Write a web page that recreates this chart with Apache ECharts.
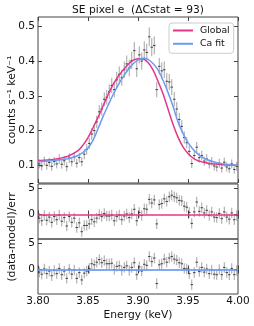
<!DOCTYPE html>
<html><head><meta charset="utf-8">
<script src="https://cdn.jsdelivr.net/npm/echarts@6/dist/echarts.min.js"></script>
<style>html,body{margin:0;padding:0;background:#fff}#c{width:254px;height:326px}</style>
</head><body><div id="c"></div>
<script>
const energy = [3.80125,3.80375,3.80625,3.80875,3.81125,3.81375,3.81625,3.81875,3.82125,3.82375,
3.82625,3.82875,3.83125,3.83375,3.83625,3.83875,3.84125,3.84375,3.84625,3.84875,
3.85125,3.85375,3.85625,3.85875,3.86125,3.86375,3.86625,3.86875,3.87125,3.87375,
3.87625,3.87875,3.88125,3.88375,3.88625,3.88875,3.89125,3.89375,3.89625,3.89875,
3.90125,3.90375,3.90625,3.90875,3.91125,3.91375,3.91625,3.91875,3.92125,3.92375,
3.92625,3.92875,3.93125,3.93375,3.93625,3.93875,3.94125,3.94375,3.94625,3.94875,
3.95125,3.95375,3.95625,3.95875,3.96125,3.96375,3.96625,3.96875,3.97125,3.97375,
3.97625,3.97875,3.98125,3.98375,3.98625,3.98875,3.99125,3.99375,3.99625,3.99875];
const counts = [0.104,0.098,0.112,0.100,0.108,0.097,0.111,0.104,0.118,0.103,
0.113,0.096,0.121,0.110,0.124,0.106,0.122,0.110,0.132,0.146,
0.163,0.190,0.200,0.225,0.254,0.262,0.290,0.296,0.312,0.330,
0.318,0.346,0.362,0.352,0.375,0.392,0.380,0.402,0.430,0.378,
0.418,0.400,0.432,0.425,0.470,0.440,0.445,0.318,0.385,0.372,
0.375,0.342,0.340,0.325,0.290,0.262,0.232,0.212,0.180,0.165,
0.140,0.105,0.128,0.152,0.122,0.128,0.112,0.118,0.104,0.111,
0.098,0.095,0.106,0.092,0.109,0.095,0.090,0.104,0.088,0.097];
const countErr = [0.013,0.013,0.013,0.013,0.013,0.013,0.013,0.013,0.014,0.013,
0.014,0.013,0.014,0.013,0.014,0.013,0.014,0.013,0.015,0.015,
0.016,0.017,0.017,0.018,0.019,0.019,0.020,0.021,0.021,0.022,
0.022,0.023,0.023,0.023,0.024,0.024,0.024,0.025,0.025,0.024,
0.025,0.025,0.025,0.025,0.027,0.026,0.026,0.022,0.024,0.024,
0.024,0.023,0.023,0.023,0.021,0.020,0.019,0.018,0.017,0.016,
0.015,0.013,0.014,0.015,0.014,0.014,0.013,0.014,0.013,0.013,
0.013,0.013,0.013,0.013,0.013,0.013,0.012,0.013,0.012,0.013];
const resGlobal = [-0.7,-1.2,-0.2,-1.1,-0.5,-1.5,-0.4,-1.0,-0.1,-1.3,
-0.6,-2.2,-0.4,-1.5,-0.7,-2.5,-1.6,-3.3,-2.1,-2.1,
-1.8,-1.0,-1.4,-0.7,0.0,-0.4,0.2,-0.3,-0.3,-0.1,
-1.2,-0.4,-0.1,-1.0,-0.3,0.1,-0.6,0.1,1.0,-1.2,
0.4,-0.2,1.1,1.0,2.9,2.2,2.8,-1.8,1.9,2.1,
3.0,2.5,3.4,3.7,3.4,3.2,2.7,2.6,1.6,1.4,
0.4,-1.7,0.5,2.4,0.6,1.3,0.3,0.8,-0.2,0.5,
-0.5,-0.6,0.2,-0.8,0.5,-0.5,-0.9,0.3,-1.0,-0.2];
const resCa = [-0.5,-0.9,0.1,-0.8,-0.3,-1.2,-0.2,-0.8,0.2,-1.0,
-0.3,-1.7,0.1,-0.9,-0.1,-1.7,-0.6,-2.0,-0.7,-0.3,
0.2,1.1,0.9,1.4,1.9,1.3,1.7,1.1,1.1,1.2,
0.0,0.6,0.7,-0.2,0.4,0.7,-0.2,0.4,1.3,-1.0,
0.5,-0.3,1.0,0.8,2.5,1.5,2.2,-2.7,0.9,1.1,
2.0,1.4,2.2,2.5,2.0,1.8,1.3,1.1,0.2,0.1,
-0.8,-2.9,-0.6,1.4,-0.4,0.4,-0.5,0.1,-0.8,-0.1,
-0.9,-1.0,0.0,-1.0,0.4,-0.6,-1.0,0.2,-1.0,-0.2];
const modelEnergy = [3.800,3.810,3.820,3.830,3.840,3.845,3.850,3.855,3.860,3.865,3.870,3.875,3.880,3.885,3.890,3.895,3.900,3.905,3.910,3.915,3.920,3.925,3.930,3.935,3.940,3.945,3.950,3.955,3.960,3.965,3.970,3.980,3.990,4.000];
const modelGlobal = [0.113,0.115,0.119,0.126,0.142,0.158,0.180,0.208,0.238,0.270,0.303,0.332,0.355,0.374,0.390,0.402,0.407,0.406,0.396,0.375,0.342,0.306,0.262,0.218,0.181,0.153,0.134,0.121,0.113,0.109,0.106,0.103,0.101,0.100];
const modelCa = [0.110,0.112,0.115,0.119,0.128,0.137,0.150,0.172,0.205,0.240,0.272,0.303,0.330,0.354,0.375,0.392,0.403,0.408,0.405,0.393,0.375,0.345,0.310,0.270,0.225,0.192,0.165,0.146,0.132,0.122,0.115,0.107,0.102,0.100];
const xTicks = [3.80,3.85,3.90,3.95,4.00];
const countTicks = [0.1,0.2,0.3,0.4,0.5];
const resTicks = [0,5];

const FONT = 'DejaVu Sans';
const GLOBAL_C = '#e5358b';
const CA_C = '#6c9bf2';
const ERR_C = 'rgba(90,90,90,0.55)';
const ERR_H = 'rgba(40,40,40,0.85)';
const FRAME = '#444';
const HALF = 0.00125;

function errItem(params, api) {
  const x = api.value(0), y = api.value(1), e = api.value(2);
  const t = api.coord([x, y + e]), b = api.coord([x, y - e]);
  const l = api.coord([x - HALF, y]), r = api.coord([x + HALF, y]);
  return {type: 'group', children: [
    {type: 'line', shape: {x1: t[0], y1: t[1], x2: b[0], y2: b[1]}, style: {stroke: ERR_C, lineWidth: 1}},
    {type: 'line', shape: {x1: l[0], y1: l[1], x2: r[0], y2: r[1]}, style: {stroke: ERR_H, lineWidth: 1}}
  ]};
}

const grids = [
  {left: 38, right: 16, top: 17, height: 166},
  {left: 38, right: 16, top: 184, height: 55},
  {left: 38, right: 16, top: 239, height: 55}
].map(g => Object.assign(g, {show: true, borderColor: FRAME, borderWidth: 1, backgroundColor: 'transparent'}));

const xAxes = [], yAxes = [];
for (let g = 0; g < 3; g++) {
  ['bottom', 'top'].forEach(pos => {
    xAxes.push({
      gridIndex: g, type: 'value', min: 3.8, max: 4.0, position: pos,
      axisLine: {show: false}, splitLine: {show: false},
      axisTick: {show: true, inside: true, length: 4, customValues: xTicks, lineStyle: {color: FRAME}},
      axisLabel: {show: g === 2 && pos === 'bottom', customValues: xTicks, formatter: v => v.toFixed(2),
        fontFamily: FONT, fontSize: 10.5, color: '#111', margin: 2}
    });
  });
  const main = g === 0;
  ['left', 'right'].forEach(pos => {
    yAxes.push({
      gridIndex: g, type: 'value', position: pos,
      min: main ? 0.049 : -4.7, max: main ? 0.527 : 5.85,
      axisLine: {show: false}, splitLine: {show: false},
      axisTick: {show: true, inside: true, length: 4, customValues: main ? countTicks : resTicks, lineStyle: {color: FRAME}},
      axisLabel: {show: pos === 'left', customValues: main ? countTicks : resTicks,
        formatter: v => main ? v.toFixed(1) : String(Math.round(v)),
        fontFamily: FONT, fontSize: 10.5, color: '#111', margin: 3}
    });
  });
}

const chart = echarts.init(document.getElementById('c'), null, {renderer: 'canvas'});
chart.setOption({
  animation: false,
  backgroundColor: '#fff',
  grid: grids,
  xAxis: xAxes,
  yAxis: yAxes,
  legend: {
    data: ['Global', 'Ca fit'], orient: 'vertical', left: 169, top: 23,
    icon: 'rect', itemWidth: 20, itemHeight: 2, itemGap: 2.3,
    padding: [2, 4, 4, 4], borderColor: '#ccc', borderWidth: 1, borderRadius: 3, backgroundColor: '#fff',
    textStyle: {fontFamily: FONT, fontSize: 9.3, color: '#111', lineHeight: 11, padding: [0, 0, 0, 2]}
  },
  graphic: [
    {type: 'text', x: 138, y: 10, style: {text: 'SE pixel e  (ΔCstat = 93)', fontFamily: FONT, fontSize: 10.7, fill: '#111', textAlign: 'center', textVerticalAlign: 'middle'}},
    {type: 'text', x: 12, y: 100, rotation: Math.PI / 2, style: {text: 'counts s⁻¹ keV⁻¹', fontFamily: FONT, fontSize: 10.8, fill: '#111', textAlign: 'center', textVerticalAlign: 'middle'}},
    {type: 'text', x: 12, y: 237, rotation: Math.PI / 2, style: {text: '(data-model)/err', fontFamily: FONT, fontSize: 10.8, fill: '#111', textAlign: 'center', textVerticalAlign: 'middle'}},
    {type: 'text', x: 138, y: 315, style: {text: 'Energy (keV)', fontFamily: FONT, fontSize: 10.7, fill: '#111', textAlign: 'center', textVerticalAlign: 'middle'}}
  ],
  series: [
    {type: 'custom', name: 'data', xAxisIndex: 0, yAxisIndex: 0, renderItem: errItem, clip: true, z: 1,
      data: energy.map((e, i) => [e, counts[i], countErr[i]])},
    {type: 'line', name: 'Global', xAxisIndex: 0, yAxisIndex: 0, showSymbol: false, smooth: 0.35, z: 3,
      itemStyle: {color: GLOBAL_C}, lineStyle: {color: GLOBAL_C, width: 1.5},
      data: modelEnergy.map((e, i) => [e, modelGlobal[i]])},
    {type: 'line', name: 'Ca fit', xAxisIndex: 0, yAxisIndex: 0, showSymbol: false, smooth: 0.35, z: 3,
      itemStyle: {color: CA_C}, lineStyle: {color: CA_C, width: 1.5},
      data: modelEnergy.map((e, i) => [e, modelCa[i]])},
    {type: 'custom', name: 'resGlobal', xAxisIndex: 2, yAxisIndex: 2, renderItem: errItem, clip: true, z: 1,
      data: energy.map((e, i) => [e, resGlobal[i], 1]),
      markLine: {silent: true, symbol: 'none', label: {show: false}, animation: false,
        lineStyle: {color: GLOBAL_C, width: 1.5, type: 'solid'}, data: [{yAxis: 0}]}},
    {type: 'custom', name: 'resCa', xAxisIndex: 4, yAxisIndex: 4, renderItem: errItem, clip: true, z: 1,
      data: energy.map((e, i) => [e, resCa[i], 1]),
      markLine: {silent: true, symbol: 'none', label: {show: false}, animation: false,
        lineStyle: {color: CA_C, width: 1.8, type: 'solid', opacity: 0.85}, data: [{yAxis: 0}]}}
  ]
});
</script>
</body></html>
